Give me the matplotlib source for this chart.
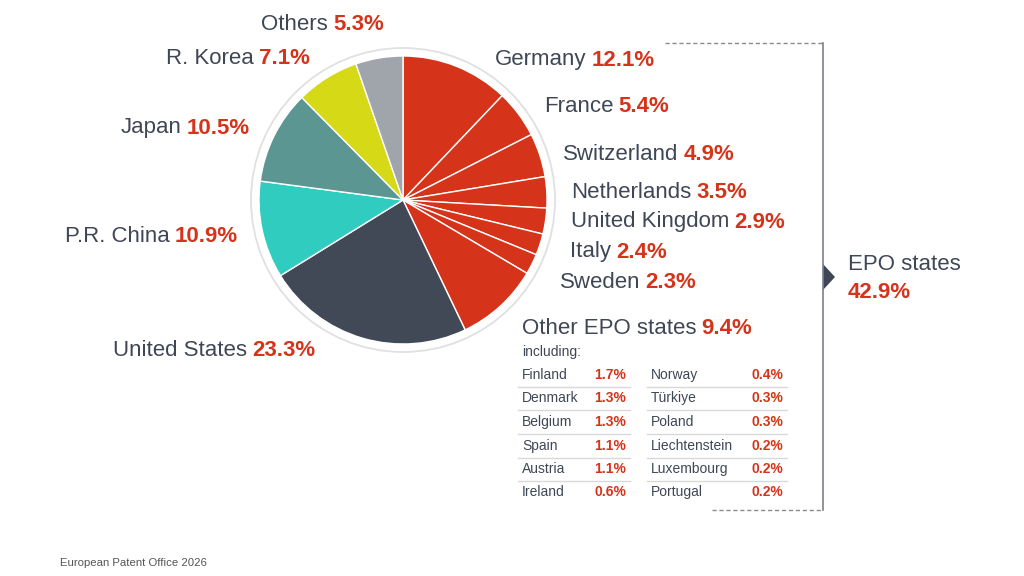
import matplotlib
matplotlib.use("Agg")
import matplotlib.pyplot as plt
from matplotlib.patches import Circle, Polygon

plt.rcParams['font.family'] = ['Liberation Sans', 'DejaVu Sans']

# ---------------- data ----------------
countries = ["Germany", "France", "Switzerland", "Netherlands", "United Kingdom",
             "Italy", "Sweden", "Other EPO states", "United States", "P.R. China",
             "Japan", "R. Korea", "Others"]
shares = [12.1, 5.4, 4.9, 3.5, 2.9, 2.4, 2.3, 9.4, 23.3, 10.9, 10.5, 7.1, 5.3]
epo_total = 42.9

other_epo_col1 = ["Finland", "Denmark", "Belgium", "Spain", "Austria", "Ireland"]
other_epo_val1 = [1.7, 1.3, 1.3, 1.1, 1.1, 0.6]
other_epo_col2 = ["Norway", "Türkiye", "Poland", "Liechtenstein", "Luxembourg", "Portugal"]
other_epo_val2 = [0.4, 0.3, 0.3, 0.2, 0.2, 0.2]

# ---------------- style ----------------
RED = "#D5341B"
TXT = "#3F4756"
colors = [RED] * 8 + ["#414957", "#30CCC0", "#5B9692", "#D5D916", "#A0A4AB"]

W, H = 1024, 576
fig = plt.figure(figsize=(W / 100, H / 100), dpi=100)
ax = fig.add_axes([0, 0, 1, 1])
ax.set_xlim(0, W)
ax.set_ylim(0, H)
ax.set_aspect('equal')
ax.axis('off')

def Y(y):
    return H - y

cx, cy, r = 403, 200, 144
ax.add_patch(Circle((cx, Y(cy)), 152, fill=False, edgecolor="#E0E0E0", linewidth=1.3))
ax.pie(shares, colors=colors, startangle=90, counterclock=False,
       center=(cx, Y(cy)), radius=r, frame=True,
       wedgeprops=dict(edgecolor="white", linewidth=1.0))
ax.set_xlim(0, W)
ax.set_ylim(0, H)
ax.axis('off')

FS = 16
GAP = 3.6

def label_right(x, y, name, val, fs=FS):
    t = ax.text(x, Y(y), name, ha='left', va='center', fontsize=fs, color=TXT)
    ax.annotate(f"{val:.1f}%", xy=(1, 0.5), xycoords=t, xytext=(GAP, 0),
                textcoords='offset points', ha='left', va='center',
                fontsize=fs, color=RED, fontweight='bold')

def label_left(x, y, name, val, fs=FS):
    t = ax.text(x, Y(y), f"{val:.1f}%", ha='right', va='center', fontsize=fs,
                color=RED, fontweight='bold')
    ax.annotate(name, xy=(0, 0.5), xycoords=t, xytext=(-GAP, 0),
                textcoords='offset points', ha='right', va='center',
                fontsize=fs, color=TXT)

# layout positions of labels (pixels)
right_pos = [(495, 60), (544, 106), (563, 155), (571, 193), (571, 222),
             (570, 252), (560, 283), (522, 329)]
left_pos = [(315, 350), (238, 236), (250, 128), (310, 58), (384, 25)]

for i in range(8):
    label_right(right_pos[i][0], right_pos[i][1], countries[i], shares[i])
for j, i in enumerate(range(8, 13)):
    label_left(left_pos[j][0], left_pos[j][1], countries[i], shares[i])

ax.text(522, Y(352), "including:", ha='left', va='center', fontsize=10, color=TXT)

row_y = [375, 398, 422, 446, 469, 492]
for k in range(len(row_y)):
    ax.text(522, Y(row_y[k]), other_epo_col1[k], ha='left', va='center', fontsize=10, color=TXT)
    ax.text(626, Y(row_y[k]), f"{other_epo_val1[k]:.1f}%", ha='right', va='center',
            fontsize=10, color=RED, fontweight='bold')
    ax.text(651, Y(row_y[k]), other_epo_col2[k], ha='left', va='center', fontsize=10, color=TXT)
    ax.text(783, Y(row_y[k]), f"{other_epo_val2[k]:.1f}%", ha='right', va='center',
            fontsize=10, color=RED, fontweight='bold')
    if k < len(row_y) - 1:
        ys = Y((row_y[k] + row_y[k + 1]) / 2)
        ax.plot([518, 630], [ys, ys], color="#D9D9D9", linewidth=1)
        ax.plot([647, 787], [ys, ys], color="#D9D9D9", linewidth=1)

# bracket
ax.plot([665, 823], [Y(43), Y(43)], color="#8A8A8A", linewidth=1, linestyle=(0, (3, 2)))
ax.plot([712, 823], [Y(510), Y(510)], color="#8A8A8A", linewidth=1, linestyle=(0, (3, 2)))
ax.plot([823, 823], [Y(43), Y(510)], color="#7A7F88", linewidth=1.2)
ax.add_patch(Polygon([(823, Y(264)), (835, Y(277)), (823, Y(290))], closed=True,
                     facecolor=TXT, edgecolor='none'))

ax.text(848, Y(265), "EPO states", ha='left', va='center', fontsize=FS, color=TXT)
ax.text(848, Y(292), f"{epo_total:.1f}%", ha='left', va='center', fontsize=FS,
        color=RED, fontweight='bold')

ax.text(60, Y(563), "European Patent Office 2026", ha='left', va='center',
        fontsize=8.2, color="#555555")

fig.savefig("out.png", dpi=100)
